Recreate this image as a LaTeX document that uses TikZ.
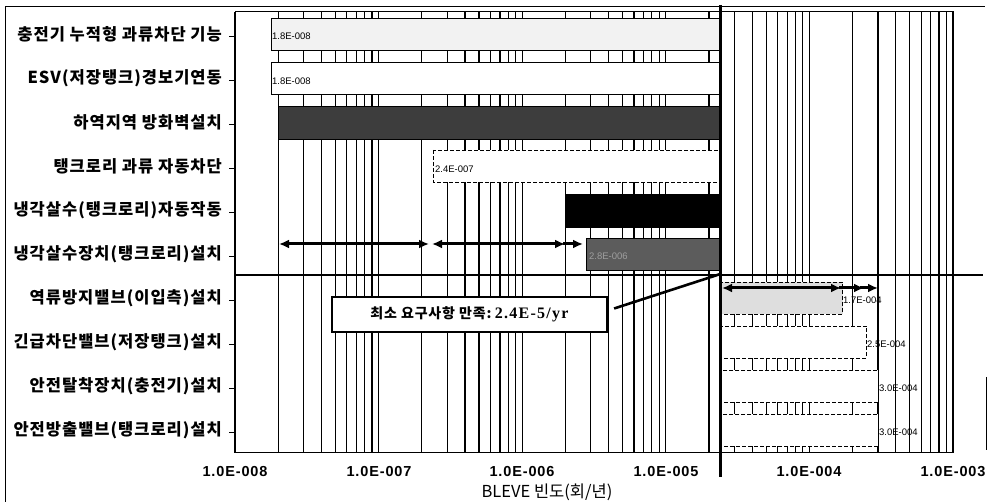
\documentclass[tikz,border=0pt]{standalone}
\usepackage{fontspec}
\setmainfont{Liberation Sans}
\newfontfamily\kr{Noto Sans CJK KR}
\newfontfamily\krs{Noto Sans CJK KR}[LetterSpace=6]
\newfontfamily\tnr{Liberation Serif}[LetterSpace=8]
\newfontfamily\axf{Liberation Sans}[LetterSpace=6]
\usetikzlibrary{arrows.meta}
\begin{document}
\begin{tikzpicture}[x=1pt,y=-1pt,
  gridln/.style={line width=1.2pt, black},
  barbox/.style={draw=black, line width=0.7pt},
  dashbox/.style={draw=black, line width=0.7pt, dash pattern=on 4pt off 2pt},
  rowlab/.style={anchor=east, inner sep=0pt, font=\krs\bfseries\fontsize{16.5}{17}\selectfont},
  vallab/.style={anchor=west, inner sep=0pt, font=\fontsize{9.5}{10}\selectfont},
  axlab/.style={inner sep=0pt, font=\axf\bfseries\fontsize{14.5}{15}\selectfont},
  tickln/.style={line width=0.8pt},
  steparrow/.style={line width=3pt, {Latex[length=10pt,width=9pt]}-{Latex[length=10pt,width=9pt]}},
  onearrow/.style={line width=3pt, -{Latex[length=10pt,width=9pt]}}
]
\useasboundingbox (0,0) rectangle (989,502);
\fill[white] (0,0) rectangle (989,502);

% outer frame (partial, as scanned)
\draw[line width=1pt] (5,502) -- (5,7) -- (985,7);
\draw[line width=1pt] (986,377) -- (986,450);

% vertical grid lines (log scale, 1E-8 at x=235, one decade = 143.6)
\foreach \d in {0,...,4}{
  \foreach \k in {1,...,9}{
    \pgfmathsetmacro\gx{235+143.6*\d+143.6*log10(\k)}
    \draw[gridln] (\gx,12) -- (\gx,453);
  }
}
\draw[gridln] (953,12) -- (953,453);

% bars, upper part (value to 2.4E-5)
\draw[barbox, fill=black!5] (271.7,18) rectangle (720.4,50);
\draw[barbox, fill=white] (271.7,62) rectangle (720.4,94);
\draw[barbox, fill=black!76] (278.2,106) rectangle (720.4,139);
\draw[dashbox, fill=white] (433.2,150) rectangle (720.4,182);
\draw[barbox, fill=black] (565.4,194) rectangle (720.4,227);
\draw[barbox, fill=black!64] (586.4,238) rectangle (720.4,270);

% bars, lower part (2.4E-5 to value)
\draw[dashbox, fill=black!13] (720.4,282) rectangle (842.5,314);
\draw[dashbox, fill=white] (720.4,326) rectangle (866.5,358);
\draw[dashbox, fill=white] (720.4,370) rectangle (877.9,402);
\draw[dashbox, fill=white] (720.4,414) rectangle (877.9,446);

% plot frame
\draw[line width=1pt] (235,12) rectangle (953,453);
\draw[line width=1.2pt] (235,275) -- (983,275);
\draw[line width=2.8pt] (720.4,5) -- (720.4,477);

% value labels
\node[vallab] (v1) at (272,36) {1.8E-008};
\node[vallab] (v2) at (272,81) {1.8E-008};
\node[vallab] (v4) at (435,169) {2.4E-007};
\node[vallab, text=black!38] (v6) at (589,256) {2.8E-006};
\node[vallab] (v7) at (843,300) {1.7E-004};
\node[vallab] (v8) at (867,344) {2.5E-004};
\node[vallab] (v9) at (879,388) {3.0E-004};
\node[vallab] (v10) at (879,432) {3.0E-004};

% step arrows
\coordinate (a1) at (279,244);
\coordinate (a2) at (429,244);
\coordinate (a3) at (432,244);
\coordinate (a4) at (565,244);
\coordinate (a5) at (563,244);
\coordinate (a6) at (583,244);
\draw[steparrow] (a1) -- (a2);
\draw[steparrow] (a3) -- (a4);
\draw[onearrow] (a5) -- (a6);
\coordinate (b1) at (722,288);
\coordinate (b2) at (841,288);
\coordinate (b3) at (839,288);
\coordinate (b4) at (864,288);
\coordinate (b5) at (860,288);
\coordinate (b6) at (878,288);
\draw[steparrow] (b1) -- (b2);
\draw[onearrow] (b3) -- (b4);
\draw[onearrow] (b5) -- (b6);

% row labels and ticks
\foreach \i/\t in {0/{충전기 누적형 과류차단 기능},
                   1/{ESV(저장탱크)경보기연동},
                   2/{하역지역 방화벽설치},
                   3/{탱크로리 과류 자동차단},
                   4/{냉각살수(탱크로리)자동작동},
                   5/{냉각살수장치(탱크로리)설치},
                   6/{역류방지밸브(이입측)설치},
                   7/{긴급차단밸브(저장탱크)설치},
                   8/{안전탈착장치(충전기)설치},
                   9/{안전방출밸브(탱크로리)설치}}{
  \pgfmathsetmacro\ry{34+44.05*\i}
  \node[rowlab] (l\i) at (222,\ry) {\t};
  \draw[tickln] (229,\ry+2) -- (235,\ry+2);
}

% x axis labels
\node[axlab] (x8) at (235,472) {1.0E-008};
\node[axlab] (x7) at (379,472) {1.0E-007};
\node[axlab] (x6) at (522,472) {1.0E-006};
\node[axlab] (x5) at (666,472) {1.0E-005};
\node[axlab] (x4) at (809,472) {1.0E-004};
\node[axlab] (x3) at (953,472) {1.0E-003};
\node[inner sep=0pt, font=\kr\fontsize{16.5}{17}\selectfont] (xt) at (547,492) {BLEVE 빈도(회/년)};

% callout
\node[draw, line width=2.2pt, fill=white, minimum width=275pt, minimum height=35pt, inner sep=0pt]
  (callout) at (469.5,314.5)
  {{\krs\bfseries\fontsize{14}{14}\selectfont 최소 요구사항 만족:}\,\,{\tnr\bfseries\fontsize{16}{16}\selectfont 2.4E-5/yr}};
\coordinate (hit) at (720.4,274);
\draw[line width=2.6pt] ([xshift=6pt,yshift=6pt]callout.east) -- (hit);
\end{tikzpicture}
\end{document}
